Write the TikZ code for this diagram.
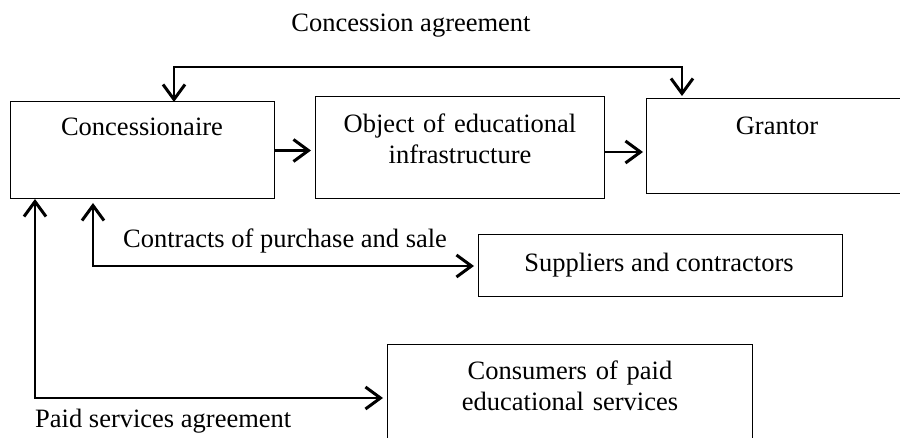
\documentclass[tikz,border=0pt]{standalone}
\usepackage{fontspec}
\setmainfont{Liberation Serif}
\usetikzlibrary{arrows.meta,calc}
\begin{document}
\begin{tikzpicture}[x=1pt,y=-1pt,
  box/.style={draw=black,line width=1pt,inner sep=0pt,outer sep=0pt,anchor=north west},
  txt/.style={font=\fontsize{26.5}{31}\selectfont,inner sep=0pt,anchor=base,align=center},
  conn/.style={line width=2.2pt,-{Straight Barb[length=15pt,width=22pt,line width=3pt]}},
  dconn/.style={line width=2.2pt,{Straight Barb[length=15pt,width=22pt,line width=3pt]}-{Straight Barb[length=15pt,width=22pt,line width=3pt]}},
]
\useasboundingbox (0,0) rectangle (900,438);
\clip (0,0) rectangle (900,438);

% boxes
\node[box,minimum width=264pt,minimum height=97pt] (conc) at (10,102) {};
\node[box,minimum width=289pt,minimum height=102pt] (obj) at (315,97) {};
\node[box,minimum width=262pt,minimum height=95pt] (grant) at (646,99) {};
\node[box,minimum width=364pt,minimum height=62pt] (sup) at (478,235) {};
\node[box,minimum width=365pt,minimum height=106pt] (cons) at (387,345) {};

% texts
\node[txt] (tconc) at (142,136) {Concessionaire};
\node[txt,text width=280pt] (tobj) at (460,133) {Object of educational\\infrastructure};
\node[txt] (tgrant) at (777,135) {Grantor};
\node[txt] (tsup) at (659,272) {Suppliers and contractors};
\node[txt,text width=330pt] (tcons) at (570,380) {Consumers of paid\\educational services};
\node[txt] (lconcag) at (411,32) {Concession agreement};
\node[txt,anchor=base west] (lcontr) at (123,248) {Contracts of purchase and sale};
\node[txt,anchor=base west] (lpaid) at (35,428) {Paid services agreement};

% connectors
\draw[dconn] ($(conc.north west)+(164,0)$) -- ++(0,-35) -| ($(grant.north west)+(36,-3)$);
\draw[conn,shorten >=4pt] (conc.east) -- (conc.east -| obj.west);
\draw[conn,shorten >=3pt] ($(obj.east)+(0,4)$) coordinate (oe) -- (oe -| grant.west);
\draw[dconn,shorten >=4pt] ($(conc.south west)+(83,4)$) |- (sup.west);
\draw[dconn,shorten >=4pt] ($(conc.south west)+(25,0)$) |- (cons.west);
\end{tikzpicture}
\end{document}
